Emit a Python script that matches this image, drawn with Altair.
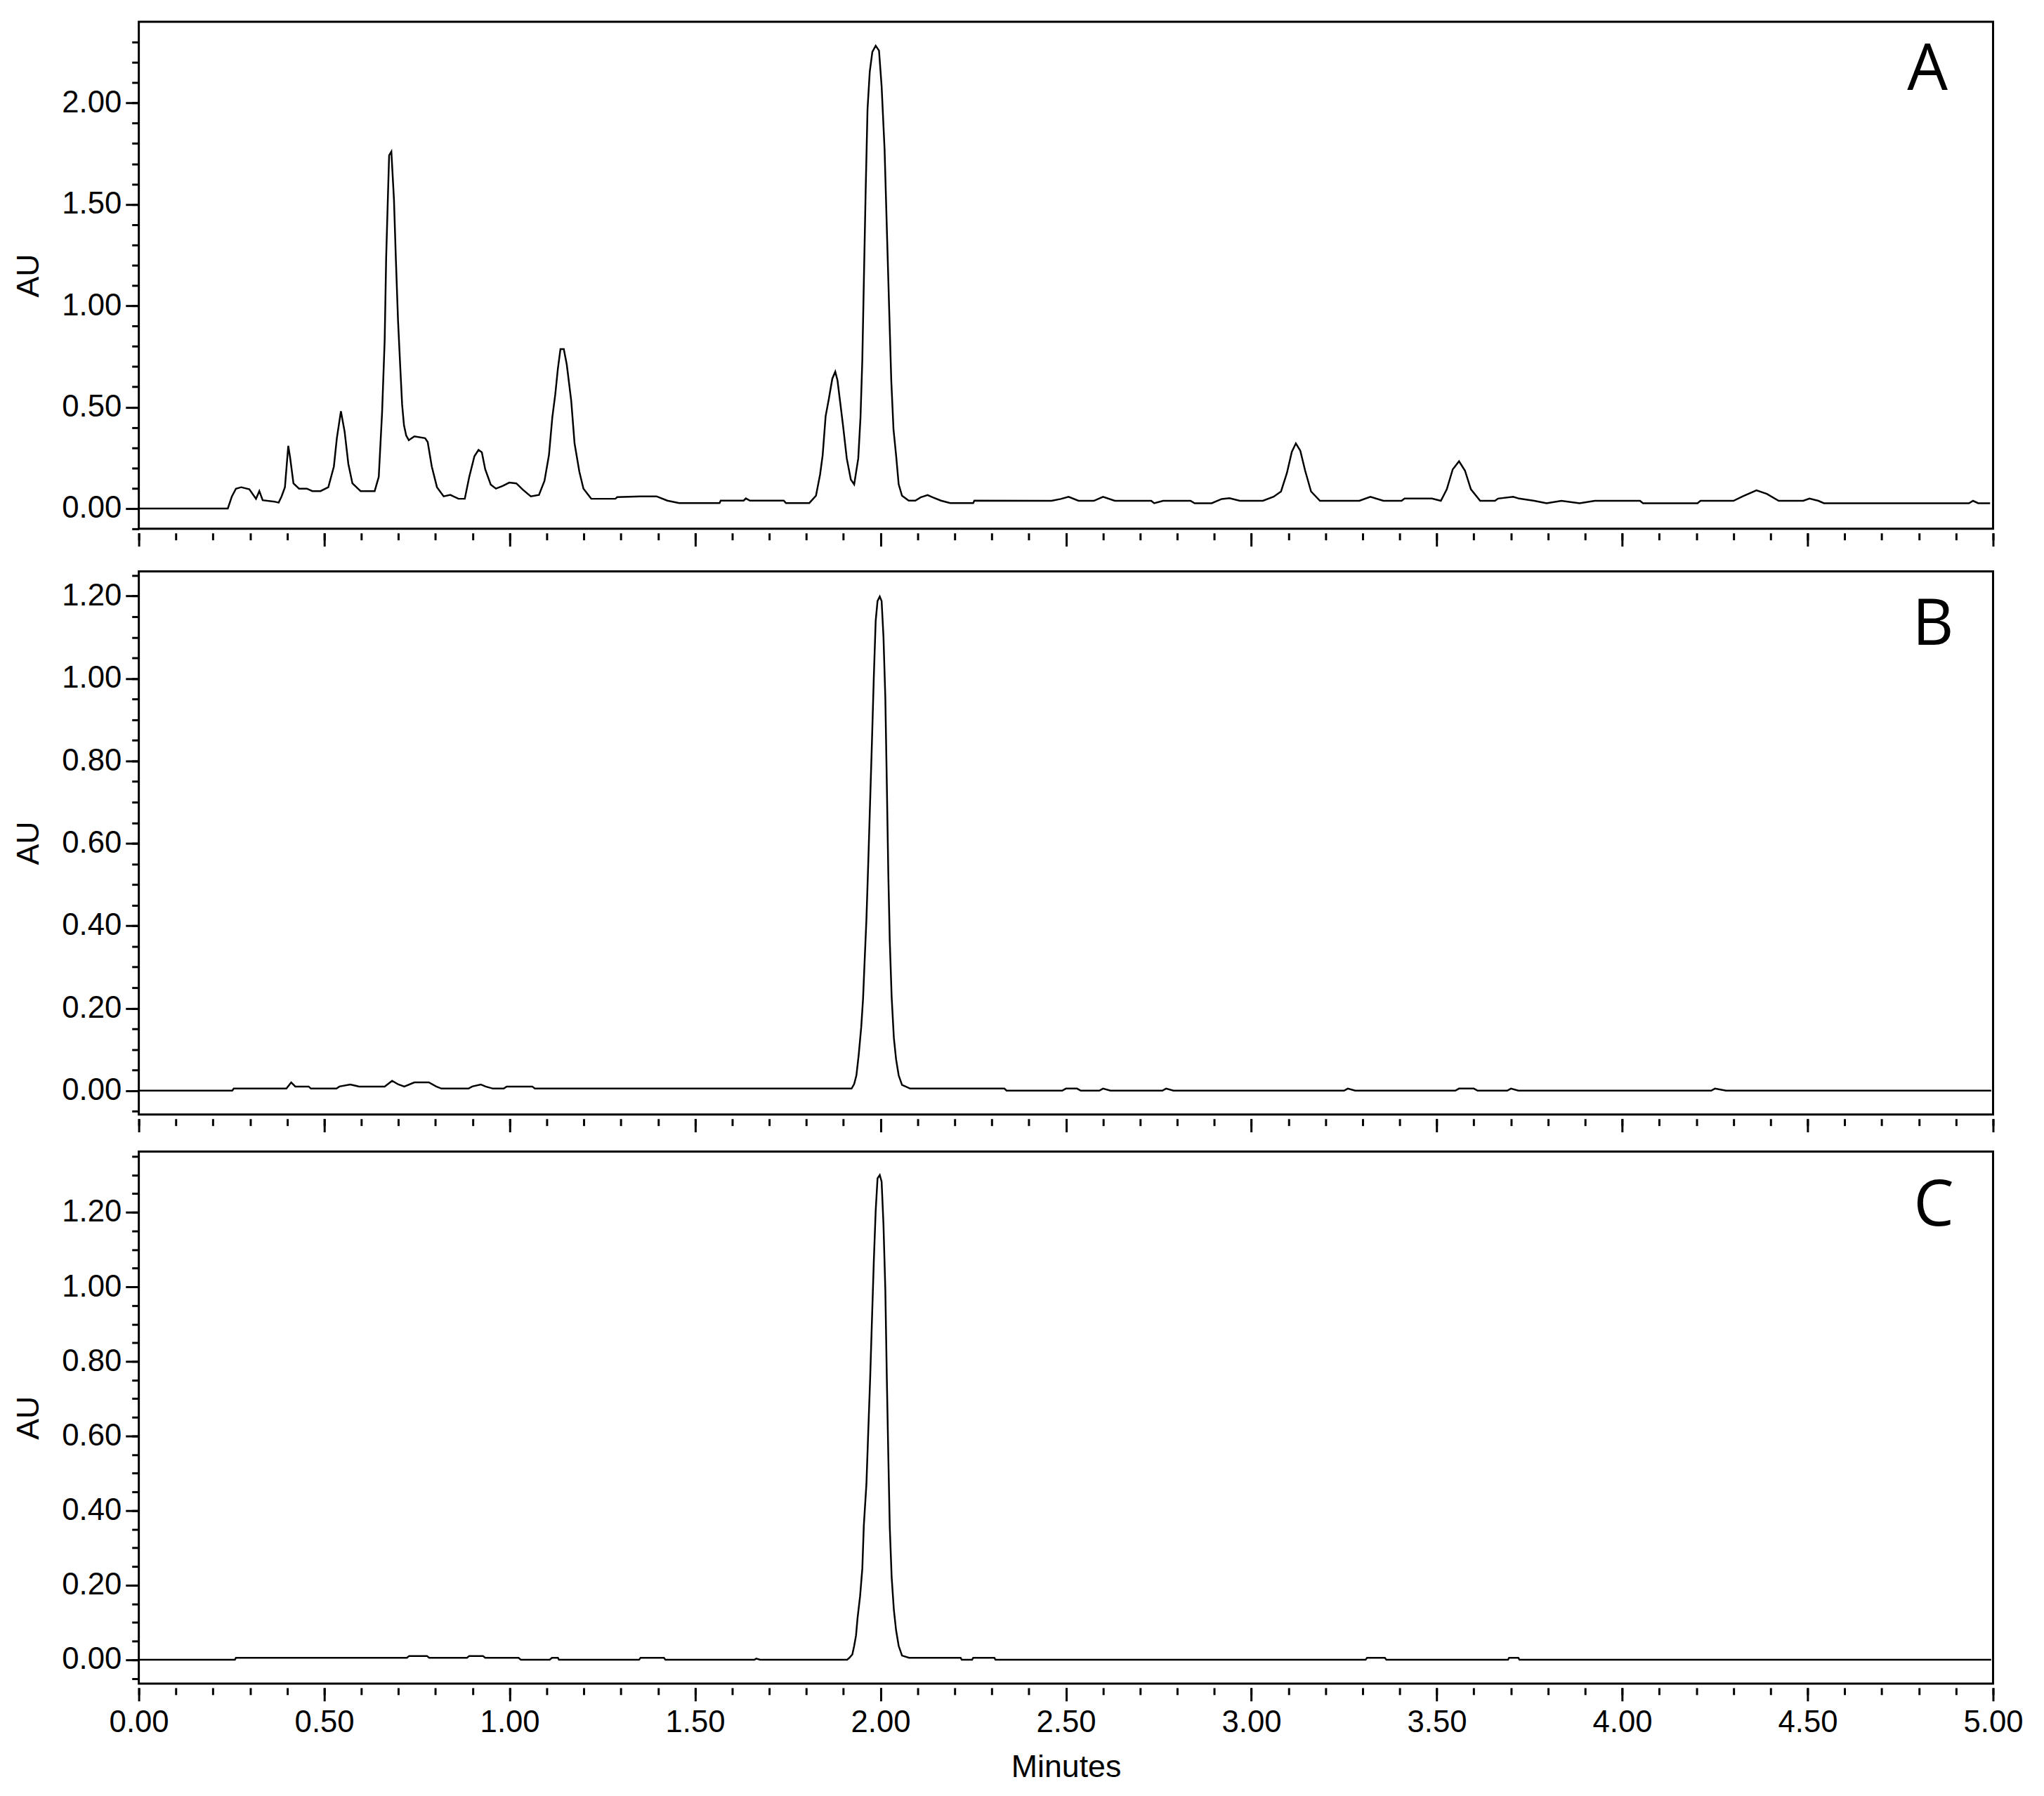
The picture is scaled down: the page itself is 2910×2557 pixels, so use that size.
import altair as alt
import pandas as pd

# ---------------- data ----------------
A_time = [0.000, 0.240, 0.251, 0.262, 0.276, 0.298, 0.316, 0.325, 0.334, 0.366, 0.377, 0.385, 0.394,
          0.403, 0.408, 0.417, 0.432, 0.453, 0.468, 0.490, 0.511, 0.526, 0.534, 0.545, 0.555, 0.565,
          0.576, 0.598, 0.636, 0.647, 0.656, 0.663, 0.667, 0.672, 0.675, 0.681, 0.688, 0.693, 0.699,
          0.705, 0.710, 0.715, 0.721, 0.728, 0.743, 0.772, 0.779, 0.790, 0.804, 0.822, 0.840, 0.862,
          0.879, 0.891, 0.905, 0.916, 0.925, 0.934, 0.949, 0.963, 0.981, 0.999, 1.018, 1.036, 1.057,
          1.079, 1.094, 1.106, 1.115, 1.123, 1.130, 1.137, 1.146, 1.154, 1.166, 1.175, 1.188, 1.199,
          1.220, 1.285, 1.290, 1.352, 1.396, 1.425, 1.457, 1.566, 1.569, 1.631, 1.637, 1.648, 1.739,
          1.745, 1.808, 1.826, 1.837, 1.844, 1.852, 1.861, 1.870, 1.878, 1.884, 1.899, 1.909, 1.920,
          1.929, 1.940, 1.946, 1.951, 1.955, 1.960, 1.965, 1.971, 1.978, 1.987, 1.996, 2.003, 2.011,
          2.018, 2.024, 2.029, 2.035, 2.042, 2.049, 2.058, 2.076, 2.094, 2.108, 2.127, 2.141, 2.163,
          2.188, 2.250, 2.253, 2.461, 2.486, 2.507, 2.534, 2.575, 2.600, 2.632, 2.730, 2.738, 2.762,
          2.836, 2.847, 2.893, 2.920, 2.941, 2.969, 3.031, 3.060, 3.080, 3.096, 3.109, 3.120, 3.132,
          3.145, 3.161, 3.185, 3.291, 3.321, 3.356, 3.405, 3.413, 3.487, 3.511, 3.527, 3.543, 3.560,
          3.576, 3.592, 3.617, 3.657, 3.665, 3.706, 3.722, 3.763, 3.796, 3.836, 3.885, 3.926, 4.048,
          4.056, 4.203, 4.211, 4.300, 4.325, 4.362, 4.390, 4.422, 4.488, 4.505, 4.529, 4.544, 4.935,
          4.946, 4.960, 4.992]
A_au = [0.000, 0.000, 0.060, 0.098, 0.105, 0.095, 0.048, 0.086, 0.041, 0.034, 0.029, 0.060, 0.105,
        0.309, 0.251, 0.124, 0.098, 0.098, 0.086, 0.086, 0.105, 0.207, 0.347, 0.480, 0.379, 0.220,
        0.124, 0.086, 0.086, 0.156, 0.474, 0.831, 1.238, 1.557, 1.742, 1.760, 1.525, 1.238, 0.926,
        0.697, 0.513, 0.411, 0.360, 0.337, 0.356, 0.347, 0.328, 0.207, 0.105, 0.060, 0.067, 0.048,
        0.048, 0.156, 0.258, 0.289, 0.277, 0.194, 0.118, 0.098, 0.111, 0.128, 0.124, 0.092, 0.060,
        0.067, 0.137, 0.264, 0.449, 0.563, 0.690, 0.786, 0.786, 0.710, 0.531, 0.321, 0.181, 0.098,
        0.048, 0.048, 0.056, 0.060, 0.060, 0.039, 0.027, 0.027, 0.039, 0.039, 0.050, 0.039, 0.039,
        0.027, 0.027, 0.063, 0.167, 0.263, 0.455, 0.544, 0.640, 0.675, 0.632, 0.408, 0.247, 0.143,
        0.119, 0.247, 0.448, 0.736, 1.113, 1.569, 1.970, 2.154, 2.252, 2.282, 2.258, 2.082, 1.770,
        1.321, 0.944, 0.632, 0.391, 0.263, 0.119, 0.063, 0.039, 0.039, 0.055, 0.066, 0.055, 0.039,
        0.027, 0.027, 0.039, 0.038, 0.047, 0.058, 0.038, 0.038, 0.058, 0.038, 0.038, 0.026, 0.038,
        0.038, 0.026, 0.026, 0.047, 0.051, 0.038, 0.038, 0.058, 0.084, 0.176, 0.279, 0.321, 0.285,
        0.187, 0.084, 0.038, 0.038, 0.058, 0.038, 0.038, 0.049, 0.049, 0.038, 0.095, 0.193, 0.233,
        0.187, 0.095, 0.038, 0.038, 0.049, 0.058, 0.049, 0.038, 0.026, 0.038, 0.026, 0.038, 0.038,
        0.026, 0.026, 0.038, 0.038, 0.060, 0.090, 0.072, 0.038, 0.038, 0.049, 0.038, 0.026, 0.026,
        0.038, 0.026, 0.026]

B_time = [0.000, 0.252, 0.256, 0.398, 0.411, 0.422, 0.458, 0.464, 0.533, 0.541, 0.570, 0.594, 0.663,
          0.683, 0.700, 0.716, 0.743, 0.782, 0.802, 0.816, 0.889, 0.899, 0.922, 0.935, 0.955, 0.984,
          0.992, 1.061, 1.068, 1.922, 1.929, 1.935, 1.941, 1.948, 1.953, 1.957, 1.962, 1.967, 1.972,
          1.977, 1.982, 1.987, 1.992, 1.998, 2.003, 2.008, 2.013, 2.017, 2.021, 2.025, 2.030, 2.036,
          2.042, 2.049, 2.058, 2.080, 2.334, 2.340, 2.490, 2.500, 2.530, 2.540, 2.590, 2.600, 2.620,
          2.760, 2.770, 2.790, 3.250, 3.260, 3.280, 3.550, 3.560, 3.600, 3.610, 3.690, 3.700, 3.720,
          4.240, 4.250, 4.280, 4.995]
B_au = [0.000, 0.000, 0.005, 0.005, 0.020, 0.010, 0.010, 0.005, 0.005, 0.010, 0.015, 0.010, 0.010,
        0.024, 0.015, 0.010, 0.020, 0.020, 0.010, 0.005, 0.005, 0.010, 0.015, 0.010, 0.005, 0.005,
        0.010, 0.010, 0.005, 0.005, 0.016, 0.037, 0.085, 0.154, 0.224, 0.311, 0.415, 0.554, 0.702,
        0.849, 1.005, 1.140, 1.188, 1.199, 1.188, 1.101, 0.953, 0.745, 0.528, 0.363, 0.228, 0.128,
        0.076, 0.037, 0.014, 0.005, 0.005, 0.000, 0.000, 0.005, 0.005, 0.000, 0.000, 0.005, 0.000,
        0.000, 0.005, 0.000, 0.000, 0.005, 0.000, 0.000, 0.005, 0.005, 0.000, 0.000, 0.005, 0.000,
        0.000, 0.005, 0.000, 0.000]

C_time = [0.000, 0.259, 0.262, 0.723, 0.729, 0.777, 0.783, 0.885, 0.891, 0.928, 0.934, 1.024, 1.030,
          1.108, 1.114, 1.130, 1.133, 1.349, 1.353, 1.416, 1.420, 1.660, 1.665, 1.675, 1.910, 1.916,
          1.924, 1.929, 1.934, 1.938, 1.945, 1.951, 1.955, 1.962, 1.967, 1.972, 1.977, 1.982, 1.987,
          1.992, 1.998, 2.003, 2.008, 2.013, 2.017, 2.021, 2.025, 2.030, 2.036, 2.042, 2.049, 2.058,
          2.077, 2.216, 2.219, 2.247, 2.250, 2.307, 2.310, 3.308, 3.312, 3.360, 3.364, 3.692, 3.695,
          3.720, 3.723, 4.995]
C_au = [0.000, 0.000, 0.005, 0.005, 0.010, 0.010, 0.005, 0.005, 0.010, 0.010, 0.005, 0.005, 0.000,
        0.000, 0.005, 0.005, 0.000, 0.000, 0.005, 0.005, 0.000, 0.000, 0.003, 0.000, 0.000, 0.005,
        0.014, 0.037, 0.065, 0.111, 0.171, 0.245, 0.360, 0.471, 0.613, 0.752, 0.913, 1.070, 1.204,
        1.291, 1.300, 1.282, 1.167, 0.992, 0.756, 0.549, 0.355, 0.222, 0.134, 0.079, 0.037, 0.011,
        0.005, 0.005, 0.000, 0.000, 0.005, 0.005, 0.000, 0.000, 0.005, 0.005, 0.000, 0.000, 0.005,
        0.005, 0.000, 0.000]

PANEL_LABELS = ["A", "B", "C"]

X_MAJOR = [0.0, 0.5, 1.0, 1.5, 2.0, 2.5, 3.0, 3.5, 4.0, 4.5, 5.0]
X_MINOR = [round(i * 0.1, 2) for i in range(51)]
A_Y_MAJOR = [0.0, 0.5, 1.0, 1.5, 2.0]
A_Y_MINOR = [round(-0.1 + i * 0.1, 2) for i in range(25)]
BC_Y_MAJOR = [0.0, 0.2, 0.4, 0.6, 0.8, 1.0, 1.2]
B_Y_MINOR = [round(-0.05 + i * 0.05, 2) for i in range(27)]
C_Y_MINOR = [round(-0.05 + i * 0.05, 2) for i in range(29)]

# ---------------- layout / style ----------------
W = 2659
FONT = "Liberation Sans"


def panel(t, v, ydom, ymajor, yminor, height, label, lab_x, lab_y, bottom):
    df = pd.DataFrame({"Minutes": t, "AU": v})
    xs = alt.Scale(domain=[0, 5], nice=False, zero=False)
    ys = alt.Scale(domain=ydom, nice=False, zero=False)

    x_axis_kw = dict(values=X_MAJOR, format=".2f", tickSize=19, offset=6, orient="bottom",
                     labelFlush=False, labelPadding=9, titlePadding=20, grid=False, domain=False)
    if bottom:
        x_main = alt.X("Minutes:Q", scale=xs, title="Minutes", axis=alt.Axis(labels=True, **x_axis_kw))
    else:
        x_main = alt.X("Minutes:Q", scale=xs, title=None, axis=alt.Axis(labels=False, **x_axis_kw))

    main = alt.Chart(df).mark_line(color="black", strokeWidth=2.5, clip=True).encode(
        x=x_main,
        y=alt.Y("AU:Q", scale=ys, title="AU",
                axis=alt.Axis(values=ymajor, format=".2f", tickSize=19, orient="left",
                              labelPadding=6, titlePadding=23, minExtent=112, maxExtent=112,
                              grid=False, domain=False)),
    )
    minor = alt.Chart(df).mark_line(strokeOpacity=0).encode(
        x=alt.X("Minutes:Q", scale=xs, title=None,
                axis=alt.Axis(values=X_MINOR, tickSize=10, labels=False, offset=6, orient="bottom",
                              grid=False, domain=False)),
        y=alt.Y("AU:Q", scale=ys, title=None,
                axis=alt.Axis(values=yminor, tickSize=10, labels=False, orient="left",
                              grid=False, domain=False)),
    )
    txt = alt.Chart(pd.DataFrame({"label": [label]})).mark_text(
        font="Open Sans", fontSize=92, align="center", baseline="alphabetic", color="black"
    ).encode(text="label:N", x=alt.value(lab_x), y=alt.value(lab_y))

    return alt.layer(minor, main, txt).resolve_axis(x="independent", y="independent").properties(
        width=W, height=height)


pA = panel(A_time, A_au, [-0.1, 2.4], A_Y_MAJOR, A_Y_MINOR, 727, PANEL_LABELS[0], 2565, 98, False)
pB = panel(B_time, B_au, [-0.058, 1.26], BC_Y_MAJOR, B_Y_MINOR, 779, PANEL_LABELS[1], 2573, 105, False)
pC = panel(C_time, C_au, [-0.064, 1.363], BC_Y_MAJOR, C_Y_MINOR, 763, PANEL_LABELS[2], 2574, 106, True)

chart = alt.vconcat(alt.vconcat(pA, pB, spacing=31), pC, spacing=23).properties(
    padding={"left": 9, "top": 12, "right": 20, "bottom": 10},
    background="white",
).configure_view(
    stroke="black", strokeWidth=3
).configure_axis(
    labelFont=FONT, labelFontSize=44, labelColor="black",
    titleFont=FONT, titleFontSize=45, titleFontWeight="normal", titleColor="black",
    tickColor="black", tickWidth=3, grid=False, domain=False
)

chart.save("out.html", embed_options={"renderer": "svg", "actions": False})
